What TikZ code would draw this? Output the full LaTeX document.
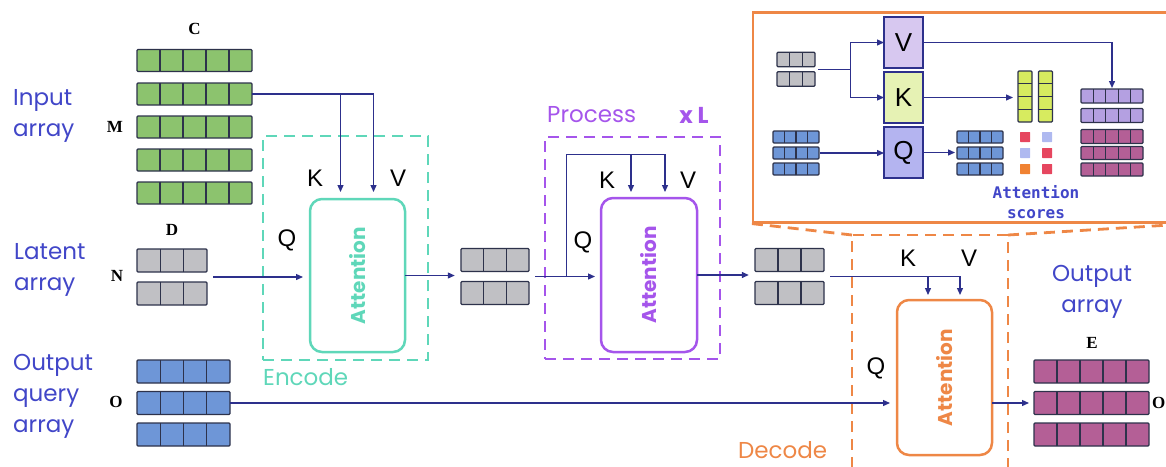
\documentclass[tikz,border=0pt]{standalone}
\usepackage{fontspec}
\usepackage{graphicx}
\setmainfont{Poppins}
\newfontfamily\kvqfont{Liberation Sans}
\newfontfamily\dimfont{Liberation Serif}
\newfontfamily\monofont{DejaVu Sans Mono}
\usetikzlibrary{arrows.meta,calc,fit}
\definecolor{navy}{RGB}{45,48,140}
\definecolor{txtblue}{RGB}{65,70,200}
\definecolor{tealc}{RGB}{95,215,185}
\definecolor{purp}{RGB}{165,85,235}
\definecolor{orng}{RGB}{238,135,70}
\definecolor{grn}{RGB}{140,195,110}
\definecolor{gry}{RGB}{192,192,196}
\definecolor{blu}{RGB}{110,150,215}
\definecolor{mag}{RGB}{180,95,150}
\definecolor{lav}{RGB}{180,160,225}
\definecolor{ygreen}{RGB}{215,235,95}
\definecolor{vfill}{RGB}{215,200,240}
\definecolor{kfill}{RGB}{230,242,180}
\definecolor{qfill}{RGB}{180,180,240}
\definecolor{sqred}{RGB}{230,70,95}
\definecolor{sqlav}{RGB}{175,185,240}
\definecolor{sqor}{RGB}{240,130,50}
\definecolor{cellb}{RGB}{45,50,75}
\tikzset{
  cellrow/.style={draw=cellb, line width=1.2pt, inner sep=0pt, outer sep=0pt, rounded corners=1pt},
  cellline/.style={draw=cellb, line width=1.2pt},
  conn/.style={draw=navy, line width=1.3pt},
  arr/.style={conn, -{Triangle[length=7pt,width=6pt]}},
  dbox/.style={dash pattern=on 11pt off 7pt, line width=2.8pt, inner sep=0pt, outer sep=0pt},
  attbox/.style={rounded corners=12pt, line width=2.5pt, inner sep=0pt, outer sep=0pt,
    font=\fontsize{20}{20}\selectfont\bfseries},
  biglbl/.style={font=\fontsize{23}{31}\selectfont, text=txtblue, align=left, inner sep=0pt},
  kvqlbl/.style={font=\kvqfont\fontsize{24}{24}\selectfont, inner sep=0pt},
  dimlbl/.style={font=\dimfont\bfseries\fontsize{17}{17}\selectfont, inner sep=0pt},
  inbox/.style={draw=navy, line width=1.2pt, inner sep=0pt, outer sep=0pt,
    minimum width=39pt, minimum height=51pt, font=\kvqfont\fontsize{26}{26}\selectfont},
  sq/.style={inner sep=0pt, minimum size=10pt, rounded corners=0.5pt},
}
\newcommand\myrow[7]{%
  \node[cellrow, fill=#7, minimum width=#4*#5, minimum height=#6] (#1) at (#2,#3) {};
  \pgfmathtruncatemacro\nmone{#4-1}
  \foreach \k in {1,...,\nmone}{\draw[cellline] ($(#1.south west)+(\k*#5,0)$) -- ($(#1.north west)+(\k*#5,0)$);}
}
\newcommand\mycol[7]{%
  \node[cellrow, fill=#7, minimum width=#5, minimum height=#4*#6] (#1) at (#2,#3) {};
  \pgfmathtruncatemacro\nmone{#4-1}
  \foreach \k in {1,...,\nmone}{\draw[cellline] ($(#1.north west)+(0,\k*#6)$) -- ($(#1.north east)+(0,\k*#6)$);}
}
\begin{document}
\begin{tikzpicture}[x=1pt,y=-1pt]
\useasboundingbox (0,0) rectangle (1166,466);
% ---------- Input array ----------
\myrow{g1}{194.5}{60.5}{5}{23}{22}{grn}
\myrow{g2}{194.5}{94}{5}{23}{22}{grn}
\myrow{g3}{194.5}{127}{5}{23}{22}{grn}
\myrow{g4}{194.5}{160}{5}{23}{22}{grn}
\myrow{g5}{194.5}{193}{5}{23}{22}{grn}
\node[dimlbl] (Clbl) at (194.5,29) {C};
\node[dimlbl] (Mlbl) at (115,127) {M};
\node[biglbl, anchor=west] (inlbl) at (13,116) {Input\\array};
% ---------- Latent array ----------
\myrow{l1}{172}{260.5}{3}{23.3}{23}{gry}
\myrow{l2}{172}{293.5}{3}{23.3}{23}{gry}
\node[fit=(l1)(l2), inner sep=0pt] (lat) {};
\node[dimlbl] (Dlbl) at (172,230) {D};
\node[dimlbl] (Nlbl) at (117,276) {N};
\node[biglbl, anchor=west] (latlbl) at (14,270) {Latent\\array};
% ---------- Output query array ----------
\myrow{q1}{183.5}{371.5}{4}{23.25}{23}{blu}
\myrow{q2}{183.5}{403}{4}{23.25}{23}{blu}
\myrow{q3}{183.5}{434.5}{4}{23.25}{23}{blu}
\node[dimlbl] (Olbl) at (116,402) {O};
\node[biglbl, anchor=west] (qlbl) at (13,396) {Output\\query\\array};
% ---------- Encode ----------
\node[dbox, draw=tealc, minimum width=165, minimum height=224] (encbox) at (345.5,248) {};
\node[attbox, draw=tealc, text=tealc, minimum width=95, minimum height=153] (encatt) at (357.5,275.5) {\rotatebox{90}{Attention}};
\node[font=\fontsize{23}{23}\selectfont, text=tealc, anchor=west, inner sep=0pt] (enclbl) at (263,377) {Encode};
\node[kvqlbl] (eKl) at (315,178) {K};
\node[kvqlbl] (eVl) at (398,178) {V};
\node[kvqlbl] (eQl) at (287,240) {Q};
\coordinate (eK) at ([xshift=-17pt,yshift=7pt]encatt.north);
\coordinate (eV) at ([xshift=16pt,yshift=7pt]encatt.north);
\draw[arr] (g2.east) -| (eV);
\draw[arr] (g2.east -| eK) -- (eK);
\draw[arr, shorten <=6pt, shorten >=7pt] (lat.east) -- (lat.east -| encatt.west);
% ---------- Middle latent ----------
\myrow{m1}{495}{260}{3}{22.7}{23}{gry}
\myrow{m2}{495}{293}{3}{22.7}{23}{gry}
\node[fit=(m1)(m2), inner sep=0pt] (mid) {};
\draw[arr, shorten >=6pt] (encatt.east) -- (encatt.east -| mid.west);
% ---------- Process ----------
\node[dbox, draw=purp, minimum width=175, minimum height=222] (procbox) at (632.5,248) {};
\node[attbox, draw=purp, text=purp, minimum width=96, minimum height=154] (procatt) at (649,275) {\rotatebox{90}{Attention}};
\node[font=\fontsize{23}{23}\selectfont, text=purp, anchor=west, inner sep=0pt] (proclbl) at (547,115) {Process};
\node[font=\fontsize{23}{23}\selectfont\bfseries, text=purp, inner sep=0pt] (xl) at (694,115) {x L};
\node[kvqlbl] (pKl) at (607,180) {K};
\node[kvqlbl] (pVl) at (688,180) {V};
\node[kvqlbl] (pQl) at (583,242) {Q};
\coordinate (pb) at ([xshift=37pt]mid.east);
\coordinate (ptop) at ($(pb)+(0,-122)$);
\coordinate (pK) at ([xshift=-18pt,yshift=6pt]procatt.north);
\coordinate (pV) at ([xshift=16pt,yshift=6pt]procatt.north);
\draw[arr, shorten <=6pt, shorten >=6pt] (mid.east) -- (mid.east -| procatt.west);
\draw[arr] (pb) |- (pV |- ptop) -- (pV);
\draw[arr] (pK |- ptop) -- (pK);
% ---------- Output latent ----------
\myrow{r1}{789.5}{260}{3}{23}{23}{gry}
\myrow{r2}{789.5}{293}{3}{23}{23}{gry}
\node[fit=(r1)(r2), inner sep=0pt] (outg) {};
\draw[arr, shorten >=6pt] (procatt.east) -- (procatt.east -| outg.west);
% ---------- Inset ----------
\node[draw=orng, line width=2.2pt, inner sep=0pt, minimum width=422, minimum height=210] (inset) at (964,117.5) {};
% ---------- Decode ----------
\node[dbox, draw=orng, minimum width=156, minimum height=240] (decbox) at (930,355) {};
\draw[dbox, draw=orng] (inset.south west) -- (decbox.north west);
\draw[dbox, draw=orng] (decbox.north east) -- ($(inset.south east)+(0,1)$);
\node[attbox, draw=orng, text=orng, minimum width=95, minimum height=155] (decatt) at (944.5,377.5) {\rotatebox{90}{Attention}};
\node[font=\fontsize{23}{23}\selectfont, text=orng, anchor=west, inner sep=0pt] (declbl) at (738,450) {Decode};
\node[kvqlbl] (dKl) at (908,258) {K};
\node[kvqlbl] (dVl) at (969,258) {V};
\node[kvqlbl] (dQl) at (876,368) {Q};
\coordinate (dK) at ([xshift=-16.5pt,yshift=5pt]decatt.north);
\coordinate (dV) at ([xshift=15.5pt,yshift=5pt]decatt.north);
\draw[arr, shorten <=6pt] (outg.east) -| (dV);
\draw[arr] (outg.east -| dK) -- (dK);
\draw[arr, shorten >=7pt] (q2.east) -- (q2.east -| decatt.west);
% ---------- Output array ----------
\myrow{o1}{1091.5}{371.5}{5}{23}{23}{mag}
\myrow{o2}{1091.5}{403}{5}{23}{23}{mag}
\myrow{o3}{1091.5}{434.5}{5}{23}{23}{mag}
\draw[arr, shorten >=5pt] (decatt.east |- o2.west) -- (o2.west);
\node[dimlbl] (Elbl) at (1092,343) {E};
\node[dimlbl, anchor=west] (O2lbl) at (1152,403) {O};
\node[biglbl, align=center] (outlbl) at (1092,292) {Output\\array};
% ---------- Inset contents ----------
\myrow{ig1}{796}{59.5}{3}{12.67}{14.5}{gry}
\myrow{ig2}{796}{79}{3}{12.67}{14.5}{gry}
\node[fit=(ig1)(ig2), inner sep=0pt] (ig) {};
\node[inbox, fill=vfill] (Vb) at (903.5,42.5) {V};
\node[inbox, fill=kfill] (Kb) at (903.5,97.5) {K};
\node[inbox, fill=qfill] (Qb) at (903.5,152.5) {Q};
\coordinate (ibr) at ([xshift=35pt]ig.east);
\draw[conn, shorten <=3pt] (ig.east) -- (ibr);
\draw[arr] (ibr) |- (Vb.west);
\draw[arr] (ibr) |- (Kb.west);
\myrow{ib1}{796}{137}{4}{11.5}{12}{blu}
\myrow{ib2}{796}{153}{4}{11.5}{12}{blu}
\myrow{ib3}{796}{169}{4}{11.5}{12}{blu}
\myrow{ir1}{980}{137}{4}{11.5}{12}{blu}
\myrow{ir2}{980}{153}{4}{11.5}{12}{blu}
\myrow{ir3}{980}{169}{4}{11.5}{12}{blu}
\mycol{gc1}{1025}{96.5}{4}{14}{12.75}{ygreen}
\mycol{gc2}{1045.5}{96.5}{4}{14}{12.75}{ygreen}
\myrow{ip1}{1112}{96}{5}{12.4}{14}{lav}
\myrow{ip2}{1112}{115.5}{5}{12.4}{14}{lav}
\myrow{ip3}{1112}{136.5}{5}{12.4}{14}{mag}
\myrow{ip4}{1112}{153}{5}{12.4}{13}{mag}
\myrow{ip5}{1112}{169.5}{5}{12.4}{13}{mag}
\draw[arr, shorten <=1pt] (ib2.east) -- (ib2.east -| Qb.west);
\draw[arr, shorten >=2pt] (Qb.east) -- (Qb.east -| ir2.west);
\draw[arr, shorten >=5pt] (Kb.east) -- (Kb.east -| gc1.west);
\draw[arr, shorten >=1pt] (Vb.east) -| (ip1.north);
\node[sq, fill=sqred] (s11) at (1025,137) {};
\node[sq, fill=sqlav] (s12) at (1047,137) {};
\node[sq, fill=sqlav] (s21) at (1025,153) {};
\node[sq, fill=sqred] (s22) at (1047,153) {};
\node[sq, fill=sqor] (s31) at (1025,169) {};
\node[sq, fill=sqred] (s32) at (1047,169) {};
\node[font=\monofont\bfseries\fontsize{16}{20}\selectfont, text=txtblue, align=center, inner sep=0pt] (scl) at (1036,202) {Attention\\scores};
\end{tikzpicture}
\end{document}
